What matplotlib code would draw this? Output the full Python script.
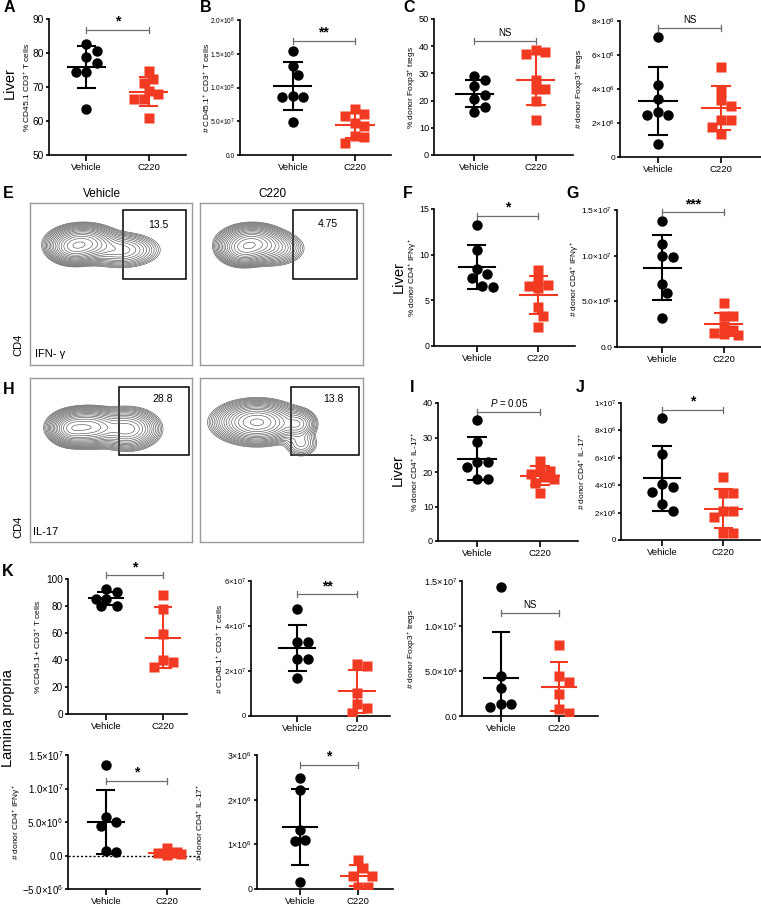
import numpy as np
import matplotlib
matplotlib.use("Agg")
import matplotlib.pyplot as plt
from matplotlib.patches import Rectangle

plt.rcParams['font.family'] = ['Liberation Sans', 'DejaVu Sans']
plt.rcParams['mathtext.fontset'] = 'custom'
plt.rcParams['mathtext.rm'] = 'Liberation Sans'
plt.rcParams['mathtext.it'] = 'Liberation Sans:italic'
plt.rcParams['mathtext.bf'] = 'Liberation Sans:bold'

W, H = 761, 916
RED = '#f23a22'
BRACKET = '#6e6e6e'

groups = ["Vehicle", "C220"]

# ---------------- data ----------------
a_vehicle = [82.5, 80.7, 78.7, 77.0, 74.5, 74.5, 63.4]
a_c220 = [74.8, 72.3, 71.3, 68.9, 67.9, 66.5, 66.5, 60.8]
b_vehicle = [1.546e8, 1.323e8, 1.185e8, 0.874e8, 0.864e8, 0.864e8, 0.494e8]
b_c220 = [0.677e8, 0.607e8, 0.578e8, 0.479e8, 0.43e8, 0.281e8, 0.272e8, 0.173e8]
c_vehicle = [29.1, 27.4, 25.2, 22.2, 20.5, 17.6, 15.8]
c_c220 = [38.6, 37.7, 37.0, 27.6, 24.2, 24.2, 20.0, 12.7]
d_vehicle = [7.07e6, 4.22e6, 3.44e6, 2.65e6, 2.46e6, 2.46e6, 0.75e6]
d_c220 = [5.30e6, 3.89e6, 3.34e6, 2.99e6, 2.16e6, 2.16e6, 1.77e6, 1.34e6]
f_vehicle = [13.2, 10.5, 8.4, 7.9, 7.4, 6.5, 6.6]
f_c220 = [8.34, 7.07, 6.70, 6.59, 6.33, 4.24, 3.29, 2.12]
g_vehicle = [13.8e6, 11.3e6, 9.95e6, 9.8e6, 6.88e6, 5.93e6, 3.22e6]
g_c220 = [4.83e6, 3.37e6, 3.37e6, 2.27e6, 1.90e6, 1.54e6, 1.39e6, 1.28e6]
i_vehicle = [35.1, 28.8, 23.0, 23.0, 21.4, 17.9, 17.9]
i_c220 = [23.3, 20.4, 20.4, 19.4, 18.5, 17.9, 16.9, 14.0]
j_vehicle = [8.9e6, 6.3e6, 4.1e6, 3.85e6, 3.5e6, 2.63e6, 2.15e6]
j_c220 = [4.63e6, 3.41e6, 3.41e6, 2.15e6, 2.15e6, 1.66e6, 0.49e6, 0.49e6]
k1_vehicle = [92.6, 90.1, 85.2, 85.2, 80.2, 80.2]
k1_c220 = [88.4, 77.8, 59.5, 39.8, 38.3, 34.6]
k2_vehicle = [4.77e7, 3.29e7, 3.29e7, 2.55e7, 2.55e7, 1.70e7]
k2_c220 = [2.30e7, 2.21e7, 1.02e7, 0.52e7, 0.37e7, 0.13e7]
k3_vehicle = [14.33e6, 4.48e6, 3.11e6, 1.37e6, 1.37e6, 1.0e6]
k3_c220 = [7.85e6, 4.41e6, 3.81e6, 2.41e6, 0.81e6, 0.33e6]
k4_vehicle = [13.5e6, 5.8e6, 5.05e6, 4.4e6, 0.67e6, 0.52e6]
k4_c220 = [1.07e6, 0.57e6, 0.32e6, 0.32e6, 0.22e6, 0.07e6]
k5_vehicle = [2.48e6, 2.22e6, 1.32e6, 1.10e6, 1.08e6, 0.16e6]
k5_c220 = [0.66e6, 0.46e6, 0.29e6, 0.29e6, 0.05e6, 0.05e6]


def sci(m, e):
    return rf"${m}{{\times}}10^{{{e}}}$"


a_ticks = [50, 60, 70, 80, 90]
b_ticks = [0, 0.5e8, 1.0e8, 1.5e8, 2.0e8]
b_labels = ["0.0", sci("5.0", 7), sci("1.0", 8), sci("1.5", 8), sci("2.0", 8)]
c_ticks = [0, 10, 20, 30, 40, 50]
d_ticks = [0, 2e6, 4e6, 6e6, 8e6]
d_labels = ["0", sci("2", 6), sci("4", 6), sci("6", 6), sci("8", 6)]
f_ticks = [0, 5, 10, 15]
g_ticks = [0, 5e6, 1e7, 1.5e7]
g_labels = ["0.0", sci("5.0", 6), sci("1.0", 7), sci("1.5", 7)]
i_ticks = [0, 10, 20, 30, 40]
j_ticks = [0, 2e6, 4e6, 6e6, 8e6, 1e7]
j_labels = ["0", sci("2", 6), sci("4", 6), sci("6", 6), sci("8", 6), sci("1", 7)]
k1_ticks = [0, 20, 40, 60, 80, 100]
k2_ticks = [0, 2e7, 4e7, 6e7]
k2_labels = ["0", sci("2", 7), sci("4", 7), sci("6", 7)]
k3_ticks = [0, 5e6, 1e7, 1.5e7]
k3_labels = ["0.0", sci("5.0", 6), sci("1.0", 7), sci("1.5", 7)]
k4_ticks = [-5e6, 0, 5e6, 1e7, 1.5e7]
k4_labels = [sci("-5.0", 6), "0.0", sci("5.0", 6), sci("1.0", 7), sci("1.5", 7)]
k5_ticks = [0, 1e6, 2e6, 3e6]
k5_labels = ["0", sci("1", 6), sci("2", 6), sci("3", 6)]

P = r"$^{+}$"

# flow contour plots: gaussian blobs (cx, cy, sx, sy, weight) in axes units
e_veh_cx = [0.33, 0.26, 0.56]
e_veh_cy = [0.75, 0.72, 0.71]
e_veh_sx = [0.085, 0.06, 0.10]
e_veh_sy = [0.045, 0.04, 0.045]
e_veh_w = [1.0, 0.5, 0.25]
e_c220_cx = [0.32, 0.26, 0.45]
e_c220_cy = [0.75, 0.71, 0.72]
e_c220_sx = [0.08, 0.06, 0.08]
e_c220_sy = [0.045, 0.04, 0.045]
e_c220_w = [1.0, 0.5, 0.2]
h_veh_cx = [0.36, 0.25, 0.60]
h_veh_cy = [0.70, 0.69, 0.69]
h_veh_sx = [0.09, 0.05, 0.08]
h_veh_sy = [0.045, 0.04, 0.05]
h_veh_w = [1.0, 0.5, 0.5]
h_c220_cx = [0.35, 0.60, 0.62]
h_c220_cy = [0.73, 0.72, 0.60]
h_c220_sx = [0.10, 0.05, 0.05]
h_c220_sy = [0.05, 0.04, 0.04]
h_c220_w = [1.0, 0.2, 0.06]


fig = plt.figure(figsize=(W / 100, H / 100), dpi=100)


def add_ax(left, top, right, bottom):
    return fig.add_axes([left / W, 1 - bottom / H, (right - left) / W, (bottom - top) / H])


def swarm(values, px_y, px_x, diam=10.0):
    vals = np.asarray(values, dtype=float)
    offs = np.zeros(len(vals))
    placed = []
    steps = [0.0]
    for k in range(1, 4):
        steps += [k * 0.5 * diam, -k * 0.5 * diam]
    for i in np.argsort(-vals):
        y = vals[i] * px_y
        best, best_d = 0.0, -1
        for st in steps:
            d = min([np.hypot(st - px, y - py) for px, py in placed] or [1e9])
            if d >= diam * 0.95:
                best = st
                break
            if d > best_d:
                best, best_d = st, d
        offs[i] = best / px_x
        placed.append((best, y))
    return offs


def scatter_panel(rect, xlim, veh, c220, ticks, labels, ylabel, ylabel_x, sig, sig_y,
                  tick_fs=6.6, sig_fs=10, zero_line=False):
    ax = add_ax(*rect)
    left, top, right, bottom = rect
    ax.set_xlim(xlim)
    ax.set_ylim(ticks[0], ticks[-1])
    px_y = (bottom - top) / (ticks[-1] - ticks[0])
    px_x = (right - left) / (xlim[1] - xlim[0])

    for i, (vals, col, mk, ms) in enumerate([(veh, 'black', 'o', 7.5), (c220, RED, 's', 6.6)]):
        offs = swarm(vals, px_y, px_x, diam=10.5 if mk == 'o' else 9.5)
        ax.plot(i + offs, vals, ls='none', marker=mk, ms=ms, color=col, mec='none', zorder=3)
        m, sd = np.mean(vals), np.std(vals, ddof=1)
        ax.plot([i - 0.3, i + 0.3], [m, m], color=col, lw=1.5, zorder=4)
        ax.plot([i, i], [m - sd, m + sd], color=col, lw=1.5, zorder=4)
        for yy in (m - sd, m + sd):
            ax.plot([i - 0.14, i + 0.14], [yy, yy], color=col, lw=1.5, zorder=4)

    if zero_line:
        ax.axhline(0, color='black', lw=1, ls=(0, (1.5, 1.5)), zorder=1)

    # significance bracket
    cap = 3 / px_y
    ax.plot([0, 1], [sig_y, sig_y], color=BRACKET, lw=0.9, clip_on=False)
    for xx in (0, 1):
        ax.plot([xx, xx], [sig_y - cap, sig_y + cap], color=BRACKET, lw=0.9, clip_on=False)
    if sig.startswith("*"):
        ax.text(0.5, sig_y + 1 / px_y, sig, ha='center', va='bottom', fontsize=sig_fs,
                fontweight='bold', clip_on=False)
    else:
        ax.text(0.5, sig_y + 3 / px_y, sig, ha='center', va='bottom', fontsize=7, clip_on=False)

    for s in ['top', 'right']:
        ax.spines[s].set_visible(False)
    for s in ['left', 'bottom']:
        ax.spines[s].set_linewidth(1.2)
    ax.set_xticks([0, 1])
    ax.set_xticklabels(groups, fontsize=6.8)
    ax.set_yticks(ticks)
    ax.set_yticklabels(labels if labels else [str(t) for t in ticks], fontsize=tick_fs)
    ax.tick_params(axis='y', length=2.5, width=1.2, pad=1)
    ax.tick_params(axis='x', length=4, width=1.2, pad=2)
    ax.set_ylabel(ylabel, fontsize=6)
    ax.yaxis.label.set_va('center')
    ax.yaxis.set_label_coords((ylabel_x - left) / (right - left), 0.5)
    return ax


def flow_panel(rect, cx, cy, sx, sy, w, gate, pct, pct_xy):
    ax = add_ax(*rect)
    xs = np.linspace(0, 1, 300)
    X, Y = np.meshgrid(xs, xs)
    Z = np.zeros_like(X)
    for a, b, c, d, e in zip(cx, cy, sx, sy, w):
        Z += e * np.exp(-((X - a) ** 2 / (2 * c ** 2) + (Y - b) ** 2 / (2 * d ** 2)))
    levels = Z.max() * np.geomspace(0.01, 0.92, 17)
    ax.contour(X, Y, Z, levels=levels, colors='#555555', linewidths=0.45)
    ax.add_patch(Rectangle((gate[0], gate[1]), gate[2] - gate[0], gate[3] - gate[1],
                           fill=False, ec='black', lw=1.1))
    ax.text(pct_xy[0], pct_xy[1], pct, ha='center', va='center', fontsize=7.5)
    ax.set_xlim(0, 1)
    ax.set_ylim(0, 1)
    ax.set_xticks([])
    ax.set_yticks([])
    for s in ax.spines.values():
        s.set_color('#9a9a9a')
        s.set_linewidth(1.0)
    return ax


# ---------------- liver scatter panels ----------------
scatter_panel((49, 19, 186, 155), (-0.6, 1.6), a_vehicle, a_c220, a_ticks, None,
              "% CD45.1 CD3" + P + " T cells", 27, "*", 86.8, tick_fs=7.3)
scatter_panel((240, 20, 391, 155), (-0.85, 1.58), b_vehicle, b_c220, b_ticks, b_labels,
              "# CD45.1" + P + " CD3" + P + " T cells", 207, "**", 1.69e8, tick_fs=4.8)
scatter_panel((434, 19, 573, 155), (-0.65, 1.6), c_vehicle, c_c220, c_ticks, None,
              "% donor Foxp3" + P + " tregs", 412, "NS", 41.8)
scatter_panel((620, 21, 761, 157), (-0.6, 1.63), d_vehicle, d_c220, d_ticks, d_labels,
              "# donor Foxp3" + P + " tregs", 580, "NS", 7.56e6, tick_fs=6)
scatter_panel((434, 209, 575, 346), (-0.7, 1.6), f_vehicle, f_c220, f_ticks, None,
              "% donor CD4" + P + " IFNγ" + P, 413, "*", 14.27, tick_fs=6.3)
scatter_panel((617, 210, 761, 347), (-0.73, 1.6), g_vehicle, g_c220, g_ticks, g_labels,
              "# donor CD4" + P + " IFNγ" + P, 575, "***", 14.75e6, tick_fs=6)
scatter_panel((438, 403, 578, 541), (-0.62, 1.6), i_vehicle, i_c220, i_ticks, None,
              "% donor CD4" + P + " IL-17" + P, 415, r"$\mathit{P}$ = 0.05", 37.4)
scatter_panel((621, 403, 760, 540), (-0.67, 1.6), j_vehicle, j_c220, j_ticks, j_labels,
              "# donor CD4" + P + " IL-17" + P, 582, "*", 9.5e6, tick_fs=5.7)

# ---------------- lamina propria ----------------
scatter_panel((68, 579, 187, 714), (-0.67, 1.42), k1_vehicle, k1_c220, k1_ticks, None,
              "% CD45.1+ CD3" + P + " T cells", 38, "*", 102.7, tick_fs=7.2)
scatter_panel((251, 581, 390, 716), (-0.77, 1.55), k2_vehicle, k2_c220, k2_ticks, k2_labels,
              "# CD45.1" + P + " CD3" + P + " T cells", 220, "**", 5.41e7, tick_fs=5.6)
scatter_panel((462, 581, 598, 716), (-0.67, 1.67), k3_vehicle, k3_c220, k3_ticks, k3_labels,
              "# donor Foxp3" + P + " tregs", 412, "NS", 11.5e6, tick_fs=6.6)
scatter_panel((68, 755, 200, 889), (-0.62, 1.54), k4_vehicle, k4_c220, k4_ticks, k4_labels,
              "# donor CD4" + P + " IFNγ" + P, 17, "*", 11.17e6, tick_fs=7, zero_line=True)
scatter_panel((257, 755, 393, 889), (-0.74, 1.6), k5_vehicle, k5_c220, k5_ticks, k5_labels,
              "# donor CD4" + P + " IL-17" + P, 200, "*", 2.78e6, tick_fs=6.3)

# ---------------- flow contour plots ----------------
flow_panel((30, 203, 192, 365), e_veh_cx, e_veh_cy, e_veh_sx, e_veh_sy, e_veh_w,
           (0.574, 0.531, 0.963, 0.957), "13.5", (0.79, 0.864))
flow_panel((200, 203, 363, 365), e_c220_cx, e_c220_cy, e_c220_sx, e_c220_sy, e_c220_w,
           (0.57, 0.531, 0.963, 0.957), "4.75", (0.785, 0.87))
flow_panel((30, 378, 192, 542), h_veh_cx, h_veh_cy, h_veh_sx, h_veh_sy, h_veh_w,
           (0.55, 0.53, 0.98, 0.945), "28.8", (0.82, 0.872))
flow_panel((200, 378, 363, 542), h_c220_cx, h_c220_cy, h_c220_sx, h_c220_sy, h_c220_w,
           (0.558, 0.53, 0.975, 0.945), "13.8", (0.816, 0.872))


def ftext(x, y, s, **kw):
    fig.text(x / W, 1 - y / H, s, **kw)


ftext(102, 194, "Vehicle", ha='center', va='center', fontsize=8.5)
ftext(272, 194, "C220", ha='center', va='center', fontsize=8.5)
ftext(18, 345, "CD4", ha='center', va='center', fontsize=8, rotation=90)
ftext(35, 354, "IFN- γ", ha='left', va='center', fontsize=8)
ftext(18, 527, "CD4", ha='center', va='center', fontsize=8, rotation=90)
ftext(33, 532, "IL-17", ha='left', va='center', fontsize=8)

# big side labels
ftext(10, 83, "Liver", ha='center', va='center', fontsize=10.5, rotation=90)
ftext(399, 277, "Liver", ha='center', va='center', fontsize=10.5, rotation=90)
ftext(398, 470, "Liver", ha='center', va='center', fontsize=10.5, rotation=90)
ftext(8, 718, "Lamina propria", ha='center', va='center', fontsize=10.5, rotation=90)

# panel letters
for letter, x, y in [("A", 9, 8), ("B", 206, 8), ("C", 409, 7), ("D", 580, 8),
                     ("E", 8, 193), ("F", 408, 193), ("G", 573, 193),
                     ("H", 9, 390), ("I", 412, 388), ("J", 580, 388), ("K", 8, 572)]:
    ftext(x, y, letter, ha='center', va='center', fontsize=11.5, fontweight='bold')

fig.savefig("out.png", dpi=100)
plt.close(fig)
